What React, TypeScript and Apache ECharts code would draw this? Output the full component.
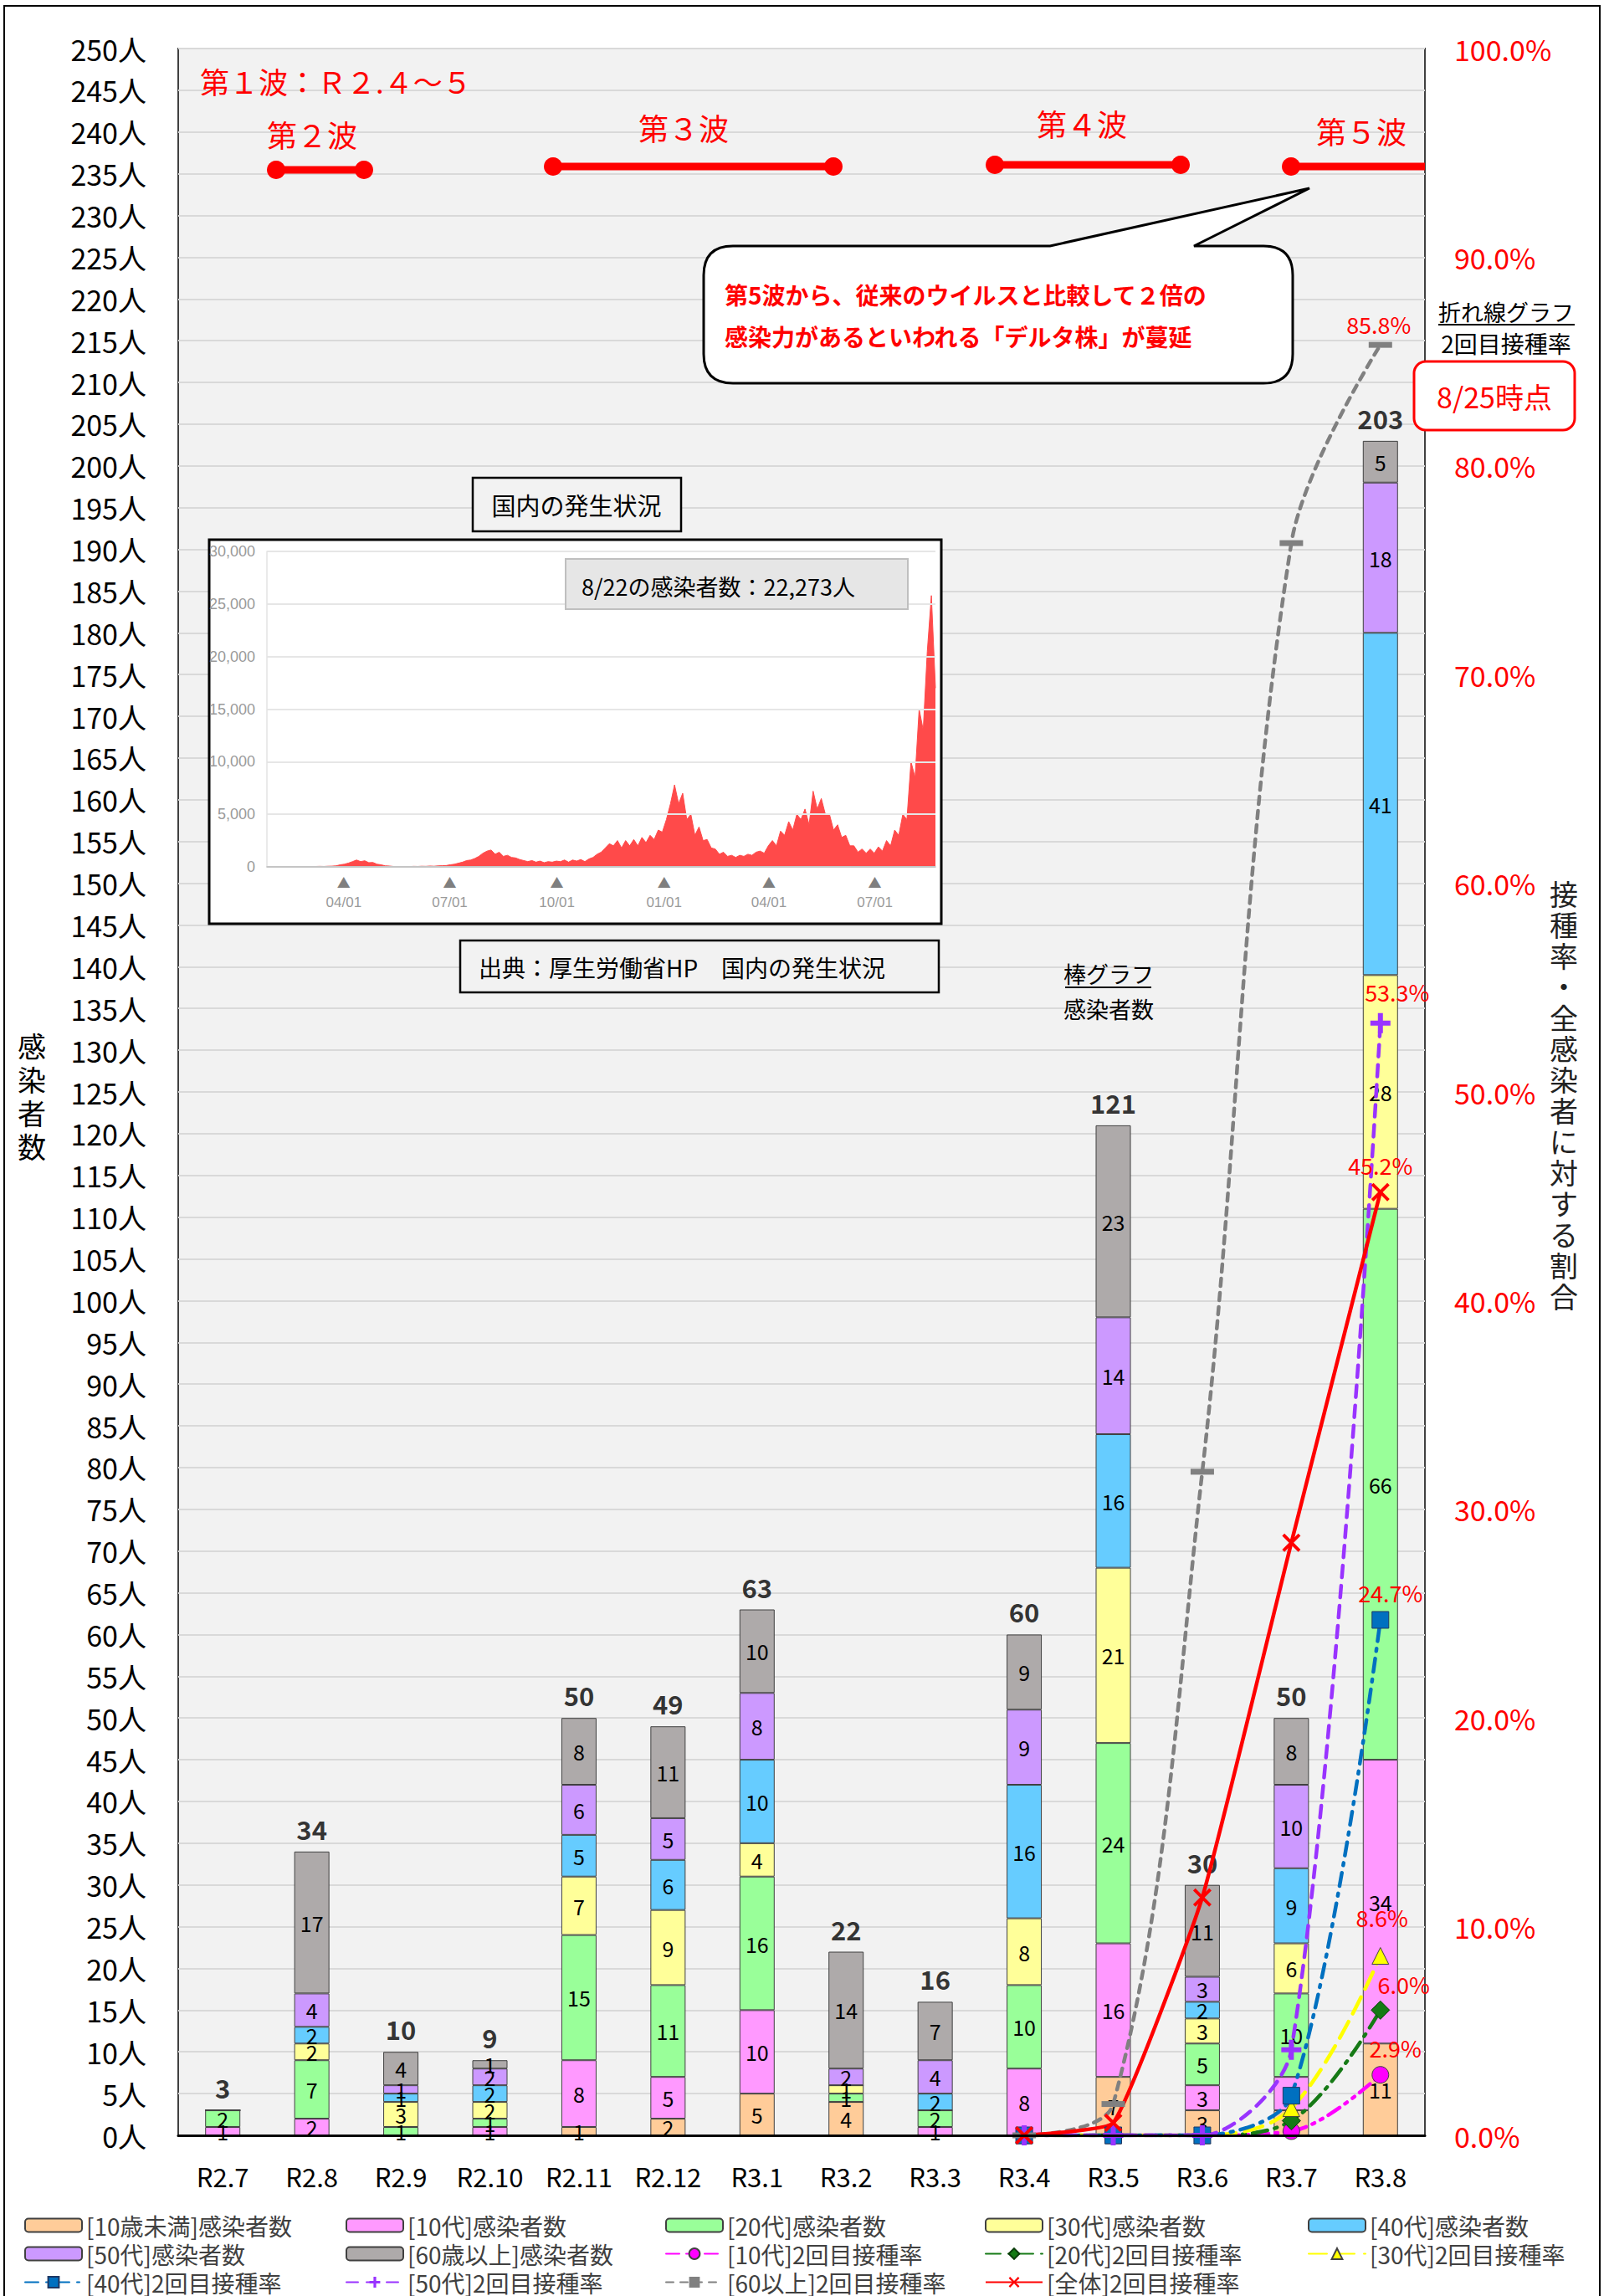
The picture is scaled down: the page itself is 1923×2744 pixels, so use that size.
import React, { useEffect, useRef } from 'react';
import * as echarts from 'echarts';

// ---------- main chart data ----------
const CATEGORIES = ['R2.7', 'R2.8', 'R2.9', 'R2.10', 'R2.11', 'R2.12', 'R3.1', 'R3.2', 'R3.3', 'R3.4', 'R3.5', 'R3.6', 'R3.7', 'R3.8'];
const CASES_UNDER10 = [0, 0, 0, 0, 1, 2, 5, 4, 0, 0, 7, 3, 3, 11];
const CASES_10S = [1, 2, 0, 1, 8, 5, 10, 0, 1, 8, 16, 3, 4, 34];
const CASES_20S = [2, 7, 1, 1, 15, 11, 16, 1, 2, 10, 24, 5, 10, 66];
const CASES_30S = [0, 2, 3, 2, 7, 9, 4, 1, 0, 8, 21, 3, 6, 28];
const CASES_40S = [0, 2, 1, 2, 5, 6, 10, 0, 2, 16, 16, 2, 9, 41];
const CASES_50S = [0, 4, 1, 2, 6, 5, 8, 2, 4, 9, 14, 3, 10, 18];
const CASES_60UP = [0, 17, 4, 1, 8, 11, 10, 14, 7, 9, 23, 11, 8, 5];

const N = null;
const VAX_10S = [N, N, N, N, N, N, N, N, N, 0, 0, 0, 0.2, 2.9];
const VAX_20S = [N, N, N, N, N, N, N, N, N, 0, 0, 0, 0.7, 6.0];
const VAX_30S = [N, N, N, N, N, N, N, N, N, 0, 0, 0, 1.3, 8.6];
const VAX_40S = [N, N, N, N, N, N, N, N, N, 0, 0, 0, 1.9, 24.7];
const VAX_50S = [N, N, N, N, N, N, N, N, N, 0, 0, 0, 4.1, 53.3];
const VAX_60UP = [N, N, N, N, N, N, N, N, N, 0, 1.5, 31.8, 76.3, 85.8];
const VAX_ALL = [N, N, N, N, N, N, N, N, N, 0, 0.6, 11.4, 28.4, 45.2];

// ---------- inset (national daily cases) data: one value every 3.5 days from 2020-01-26 ----------
const INSET_STEP_DAYS = 3.5;
const INSET_CASES = [
  0, 0, 2, 3, 5, 8, 10, 15, 12, 20,
  25, 35, 40, 50, 40, 60, 70, 100, 200, 250,
  360, 500, 650, 500, 580, 400, 420, 250, 200, 100,
  80, 40, 30, 25, 40, 30, 50, 40, 60, 50,
  80, 60, 100, 110, 130, 200, 250, 350, 450, 600,
  650, 800, 1000, 1300, 1500, 1600, 1200, 1400, 1000, 1100,
  900, 850, 700, 600, 500, 600, 450, 550, 400, 500,
  450, 550, 500, 650, 450, 650, 550, 700, 500, 750,
  900, 1200, 1400, 1800, 2200, 2000, 2500, 1800, 2500, 2000,
  2600, 2000, 2800, 2300, 3000, 2600, 3500, 3300, 4500, 6000,
  7800, 6000, 7000, 4500, 5000, 3000, 3800, 2500, 2600, 1800,
  1700, 1200, 1400, 1000, 1100, 900, 1100, 1000, 1200, 1100,
  1400, 1500, 1300, 2000, 2500, 2000, 3400, 3000, 4300, 3500,
  5000, 4500, 5500, 4000, 7200, 5500, 6500, 5000, 5000, 3500,
  4000, 2800, 3000, 2000, 2000, 1400, 1700, 1300, 1700, 1300,
  1900, 1500, 2500, 2000, 3500, 3000, 5000, 4500, 10000, 8500,
  15000, 13000, 20500, 25800, 17000,
];
const INSET_TICK_DAYS = [66, 157, 249, 341, 431, 522];
const INSET_TICK_LABELS = ['04/01', '07/01', '10/01', '01/01', '04/01', '07/01'];
const INSET_DAY_MAX = 574;

// ---------- names ----------
const NM = {
  u10: '[10歳未満]感染者数',
  c10: '[10代]感染者数',
  c20: '[20代]感染者数',
  c30: '[30代]感染者数',
  c40: '[40代]感染者数',
  c50: '[50代]感染者数',
  c60: '[60歳以上]感染者数',
  v10: '[10代]2回目接種率',
  v20: '[20代]2回目接種率',
  v30: '[30代]2回目接種率',
  v40: '[40代]2回目接種率',
  v50: '[50代]2回目接種率',
  v60: '[60以上]2回目接種率',
  vAll: '[全体]2回目接種率',
};

const FONT = '"Noto Sans CJK JP", "Noto Sans", sans-serif';

const CALLOUT_D =
  'M876,294 L1255,294 L1565,225 L1427,294 L1510,294 Q1545,294 1545,329 L1545,423 Q1545,458 1510,458 L876,458 Q841,458 841,423 L841,329 Q841,294 876,294 Z';
echarts.graphic.registerShape('callout', echarts.graphic.extendPath(CALLOUT_D, {}));

const PLUS = 'path://M3,0H5V3H8V5H5V8H3V5H0V3H3Z';
const CROSS = 'path://M1,0L4,3L7,0L8,1L5,4L8,7L7,8L4,5L1,8L0,7L3,4L0,1Z';

function buildOption() {
  const barDefs = [
    { name: NM.u10, data: CASES_UNDER10, color: '#FFCC99' },
    { name: NM.c10, data: CASES_10S, color: '#FF99FF' },
    { name: NM.c20, data: CASES_20S, color: '#99FF99' },
    { name: NM.c30, data: CASES_30S, color: '#FFFF99' },
    { name: NM.c40, data: CASES_40S, color: '#66CCFF' },
    { name: NM.c50, data: CASES_50S, color: '#CC99FF' },
    { name: NM.c60, data: CASES_60UP, color: '#AEAAAA' },
  ];
  const barSeries = barDefs.map((d) => ({
    name: d.name,
    type: 'bar',
    stack: 'cases',
    xAxisIndex: 0,
    yAxisIndex: 0,
    barWidth: 42,
    data: d.data,
    itemStyle: { color: d.color, borderColor: '#404040', borderWidth: 1 },
    label: {
      show: true,
      position: 'inside',
      fontSize: 25,
      color: '#000',
      fontFamily: FONT,
      formatter: (p: any) => (p.value ? String(p.value) : ''),
    },
    z: 2,
  }));

  const totals = CATEGORIES.map((_, i) => barDefs.reduce((s, d) => s + d.data[i], 0));
  const totalSeries = {
    name: 'total',
    type: 'scatter',
    xAxisIndex: 0,
    yAxisIndex: 0,
    data: totals,
    symbolSize: 0,
    silent: true,
    label: {
      show: true,
      position: 'top',
      distance: 12,
      fontSize: 31,
      fontWeight: 'bold',
      color: '#000',
      fontFamily: FONT,
    },
    z: 3,
  };

  const lineDefs = [
    { name: NM.v10, data: VAX_10S, color: '#FF00FF', dash: [16, 8, 3, 8, 3, 8], symbol: 'circle', size: 20, border: '#404040', bw: 1, lab: [18, 0], sm: 0.35 },
    { name: NM.v20, data: VAX_20S, color: '#167A16', dash: [18, 9, 3, 9], symbol: 'diamond', size: 22, border: '#0B3D0B', bw: 1, lab: [28, 2], sm: 0.35 },
    { name: NM.v30, data: VAX_30S, color: '#FFFF00', dash: [22, 11], symbol: 'triangle', size: 20, border: '#404040', bw: 1, lab: [2, -14], sm: 0.35 },
    { name: NM.v40, data: VAX_40S, color: '#0070C0', dash: [16, 9, 3, 9], symbol: 'rect', size: 20, border: '#1F3864', bw: 1, lab: [12, 0], sm: 0.3 },
    { name: NM.v50, data: VAX_50S, color: '#9933FF', dash: [14, 10], symbol: PLUS, size: 24, border: '#9933FF', bw: 0, lab: [20, -4], sm: 0.3 },
    { name: NM.v60, data: VAX_60UP, color: '#808080', dash: [9, 8], symbol: 'rect', size: [28, 7], border: '#808080', bw: 0, lab: [-2, 0], sm: 0.35 },
    { name: NM.vAll, data: VAX_ALL, color: '#FF0000', dash: 'solid', symbol: CROSS, size: 22, border: '#FF0000', bw: 0, lab: [0, 0], sm: 0.12 },
  ];
  const lineSeries = lineDefs.map((d) => {
    const last = d.data.length - 1;
    return {
      name: d.name,
      type: 'line',
      xAxisIndex: 0,
      yAxisIndex: 1,
      smooth: d.sm,
      connectNulls: false,
      symbol: d.symbol,
      symbolSize: d.size,
      showAllSymbol: true,
      lineStyle: { color: d.color, width: 4.5, type: d.dash, cap: d.dash === 'solid' ? 'butt' : 'round' },
      itemStyle: { color: d.color, borderColor: d.border, borderWidth: d.bw },
      data: d.data.map((v, i) =>
        i === last
          ? {
              value: v,
              label: {
                show: true,
                position: 'top',
                distance: 8,
                offset: d.lab,
                fontSize: 27,
                color: '#FF0000',
                fontFamily: FONT,
                formatter: (p: any) => Number(p.value).toFixed(1) + '%',
              },
            }
          : v
      ),
      z: 5,
    };
  });

  const insetSeries = {
    name: 'inset',
    type: 'line',
    xAxisIndex: 1,
    yAxisIndex: 2,
    data: INSET_CASES.map((v, i) => [i * INSET_STEP_DAYS, v]),
    showSymbol: false,
    silent: true,
    lineStyle: { color: '#FF4A4A', width: 1 },
    areaStyle: { color: '#FF4A4A', opacity: 1 },
    z: 4,
  };

  const legendCommon = {
    orient: 'vertical',
    top: 2645,
    padding: 0,
    itemWidth: 68,
    itemHeight: 16,
    itemGap: 5,
    selectedMode: false,
    textStyle: { fontSize: 28, color: '#404040', lineHeight: 29, fontFamily: FONT },
  };

  const red = '#FF0000';
  const txt = (x: number, y: number, text: string, size: number, color: string, extra: any = {}) => ({
    type: 'text',
    x,
    y,
    z: 20,
    silent: true,
    style: { text, fontSize: size, fill: color, fontFamily: FONT, textVerticalAlign: 'middle', verticalAlign: 'middle', align: 'left', ...extra },
  });
  const hline = (x1: number, x2: number, y: number, w: number, color: string) => ({
    type: 'line',
    z: 20,
    silent: true,
    shape: { x1, y1: y, x2, y2: y },
    style: { stroke: color, lineWidth: w },
  });
  const dot = (cx: number, cy: number) => ({ type: 'circle', z: 20, silent: true, shape: { cx, cy, r: 11 }, style: { fill: red } });
  const box = (x: number, y: number, w: number, h: number, fill: string, stroke: string, lw: number, r = 0, z = 15) => ({
    type: 'rect',
    z,
    silent: true,
    shape: { x, y, width: w, height: h, r },
    style: { fill, stroke, lineWidth: lw },
  });

  const graphic = [
    // outer frame
    box(5, 7, 1907, 2760, 'none', '#000', 2, 0, 30),
    // waves
    txt(239, 96, '第１波：Ｒ２.４～５', 35, red),
    txt(319, 160, '第２波', 36, red),
    txt(763, 152, '第３波', 36, red),
    txt(1239, 147, '第４波', 36, red),
    txt(1573, 156, '第５波', 36, red),
    hline(330, 435, 203, 9, red), dot(330, 203), dot(435, 203),
    hline(661, 996, 199, 9, red), dot(661, 199), dot(996, 199),
    hline(1189, 1411, 197, 9, red), dot(1189, 197), dot(1411, 197),
    hline(1543, 1703, 199, 9, red), dot(1543, 199),
    // callout
    { type: 'callout', x: 0, y: 0, z: 18, silent: true, style: { fill: '#FFFFFF', stroke: '#000', lineWidth: 3 } },
    txt(866, 352, '第5波から、従来のウイルスと比較して２倍の', 28, red, { fontWeight: 'bold' }),
    txt(866, 402, '感染力があるといわれる「デルタ株」が蔓延', 28, red, { fontWeight: 'bold' }),
    // right notes
    txt(1800, 372, '折れ線グラフ', 27, '#000', { align: 'center' }),
    hline(1719, 1882, 388, 2, '#000'),
    txt(1800, 410, '2回目接種率', 28, '#000', { align: 'center' }),
    box(1690, 432, 192, 82, '#FFFFFF', red, 3, 14, 20),
    txt(1786, 473, '8/25時点', 34, red, { align: 'center' }),
    // bar note
    txt(1325, 1163, '棒グラフ', 27, '#000', { align: 'center' }),
    hline(1273, 1376, 1180, 2, '#000'),
    txt(1325, 1205, '感染者数', 27, '#000', { align: 'center' }),
    // axis titles
    txt(38, 1309, '感\n染\n者\n数', 34, '#000', { align: 'center', lineHeight: 40 }),
    txt(1869, 1308, '接\n種\n率\n・\n全\n感\n染\n者\nに\n対\nす\nる\n割\n合', 34, '#222', { align: 'center', lineHeight: 37 }),
    // inset
    box(565, 571, 249, 64, '#F2F2F2', '#000', 2.5, 0, 15),
    txt(689, 603, '国内の発生状況', 29, '#000', { align: 'center' }),
    box(250, 645, 875, 459, '#FFFFFF', '#000', 3, 0, 1),
    box(676, 668, 409, 60, '#E6E6E6', '#BFBFBF', 2, 0, 15),
    txt(695, 700, '8/22の感染者数：22,273人', 27, '#000'),
    box(550, 1124, 572, 62, '#F2F2F2', '#000', 2.5, 0, 15),
    txt(572, 1156, '出典：厚生労働省HP　国内の発生状況', 28, '#000'),
  ];

  return {
    animation: false,
    backgroundColor: '#FFFFFF',
    textStyle: { fontFamily: FONT },
    grid: [
      { left: 213, top: 58, width: 1490, height: 2494, show: true, backgroundColor: '#F2F2F2', borderColor: '#404040', borderWidth: 2, containLabel: false, outerBoundsMode: 'none' },
      { left: 319, top: 659, width: 799, height: 377, show: false, containLabel: false, outerBoundsMode: 'none' },
    ],
    xAxis: [
      {
        type: 'category',
        gridIndex: 0,
        data: CATEGORIES,
        boundaryGap: true,
        axisLine: { show: true, lineStyle: { color: '#000', width: 3 } },
        axisTick: { show: false },
        axisLabel: { interval: 0, hideOverlap: false, fontSize: 31, color: '#000', margin: 33, fontFamily: FONT },
        splitLine: { show: false },
        z: 6,
      },
      {
        type: 'value',
        gridIndex: 1,
        min: 0,
        max: INSET_DAY_MAX,
        axisLine: { show: true, lineStyle: { color: '#BBBBBB', width: 1.5 } },
        axisTick: { show: false },
        splitLine: { show: false },
        axisLabel: {
          customValues: INSET_TICK_DAYS,
          margin: 6,
          formatter: (v: number) => {
            const i = INSET_TICK_DAYS.indexOf(v);
            return '{t|▲}\n{d|' + (i >= 0 ? INSET_TICK_LABELS[i] : '') + '}';
          },
          rich: {
            t: { color: '#7F7F7F', fontSize: 16, lineHeight: 24, align: 'center' },
            d: { color: '#9A9A9A', fontSize: 17, lineHeight: 24, align: 'center', fontFamily: '"Liberation Sans Narrow", "Liberation Sans", sans-serif' },
          },
        },
        z: 5,
      },
    ],
    yAxis: [
      {
        type: 'value',
        gridIndex: 0,
        min: 0,
        max: 250,
        interval: 5,
        position: 'left',
        axisLine: { show: false },
        axisTick: { show: false },
        axisLabel: { fontSize: 34, color: '#000', margin: 38, formatter: (v: number) => v + '人', fontFamily: FONT },
        splitLine: { show: true, lineStyle: { color: '#D9D9D9', width: 2 } },
      },
      {
        type: 'value',
        gridIndex: 0,
        min: 0,
        max: 100,
        interval: 10,
        position: 'right',
        axisLine: { show: false },
        axisTick: { show: false },
        axisLabel: { fontSize: 34, color: '#FF0000', margin: 35, formatter: (v: number) => v.toFixed(1) + '%', fontFamily: FONT },
        splitLine: { show: false },
      },
      {
        type: 'value',
        gridIndex: 1,
        min: 0,
        max: 30000,
        interval: 5000,
        axisLine: { show: true, lineStyle: { color: '#E3E3E3', width: 1.5 } },
        axisTick: { show: false },
        axisLabel: {
          fontSize: 18,
          color: '#9A9A9A',
          margin: 14,
          fontFamily: '"Liberation Sans Narrow", "Liberation Sans", sans-serif',
          formatter: (v: number) => v.toLocaleString('en-US'),
        },
        splitLine: { show: true, lineStyle: { color: '#E6E6E6', width: 2 } },
        z: 5,
      },
    ],
    legend: [
      { ...legendCommon, left: 29, data: [NM.u10, NM.c50, NM.v40] },
      { ...legendCommon, left: 413, data: [NM.c10, NM.c60, NM.v50] },
      { ...legendCommon, left: 795, data: [NM.c20, NM.v10, NM.v60] },
      { ...legendCommon, left: 1177, data: [NM.c30, NM.v20, NM.vAll] },
      { ...legendCommon, left: 1563, data: [NM.c40, NM.v30] },
    ],
    graphic,
    series: [...barSeries, totalSeries, ...lineSeries, insetSeries],
  };
}

export default function App() {
  const ref = useRef<HTMLDivElement>(null);
  useEffect(() => {
    if (!ref.current) return;
    const chart = echarts.init(ref.current, null, { renderer: 'svg' });
    chart.setOption(buildOption() as any);
    return () => chart.dispose();
  }, []);
  return (
    <div
      ref={ref}
      style={{ position: 'absolute', left: 0, top: 0, width: 1923, height: 2744, background: '#FFFFFF' }}
    />
  );
}
